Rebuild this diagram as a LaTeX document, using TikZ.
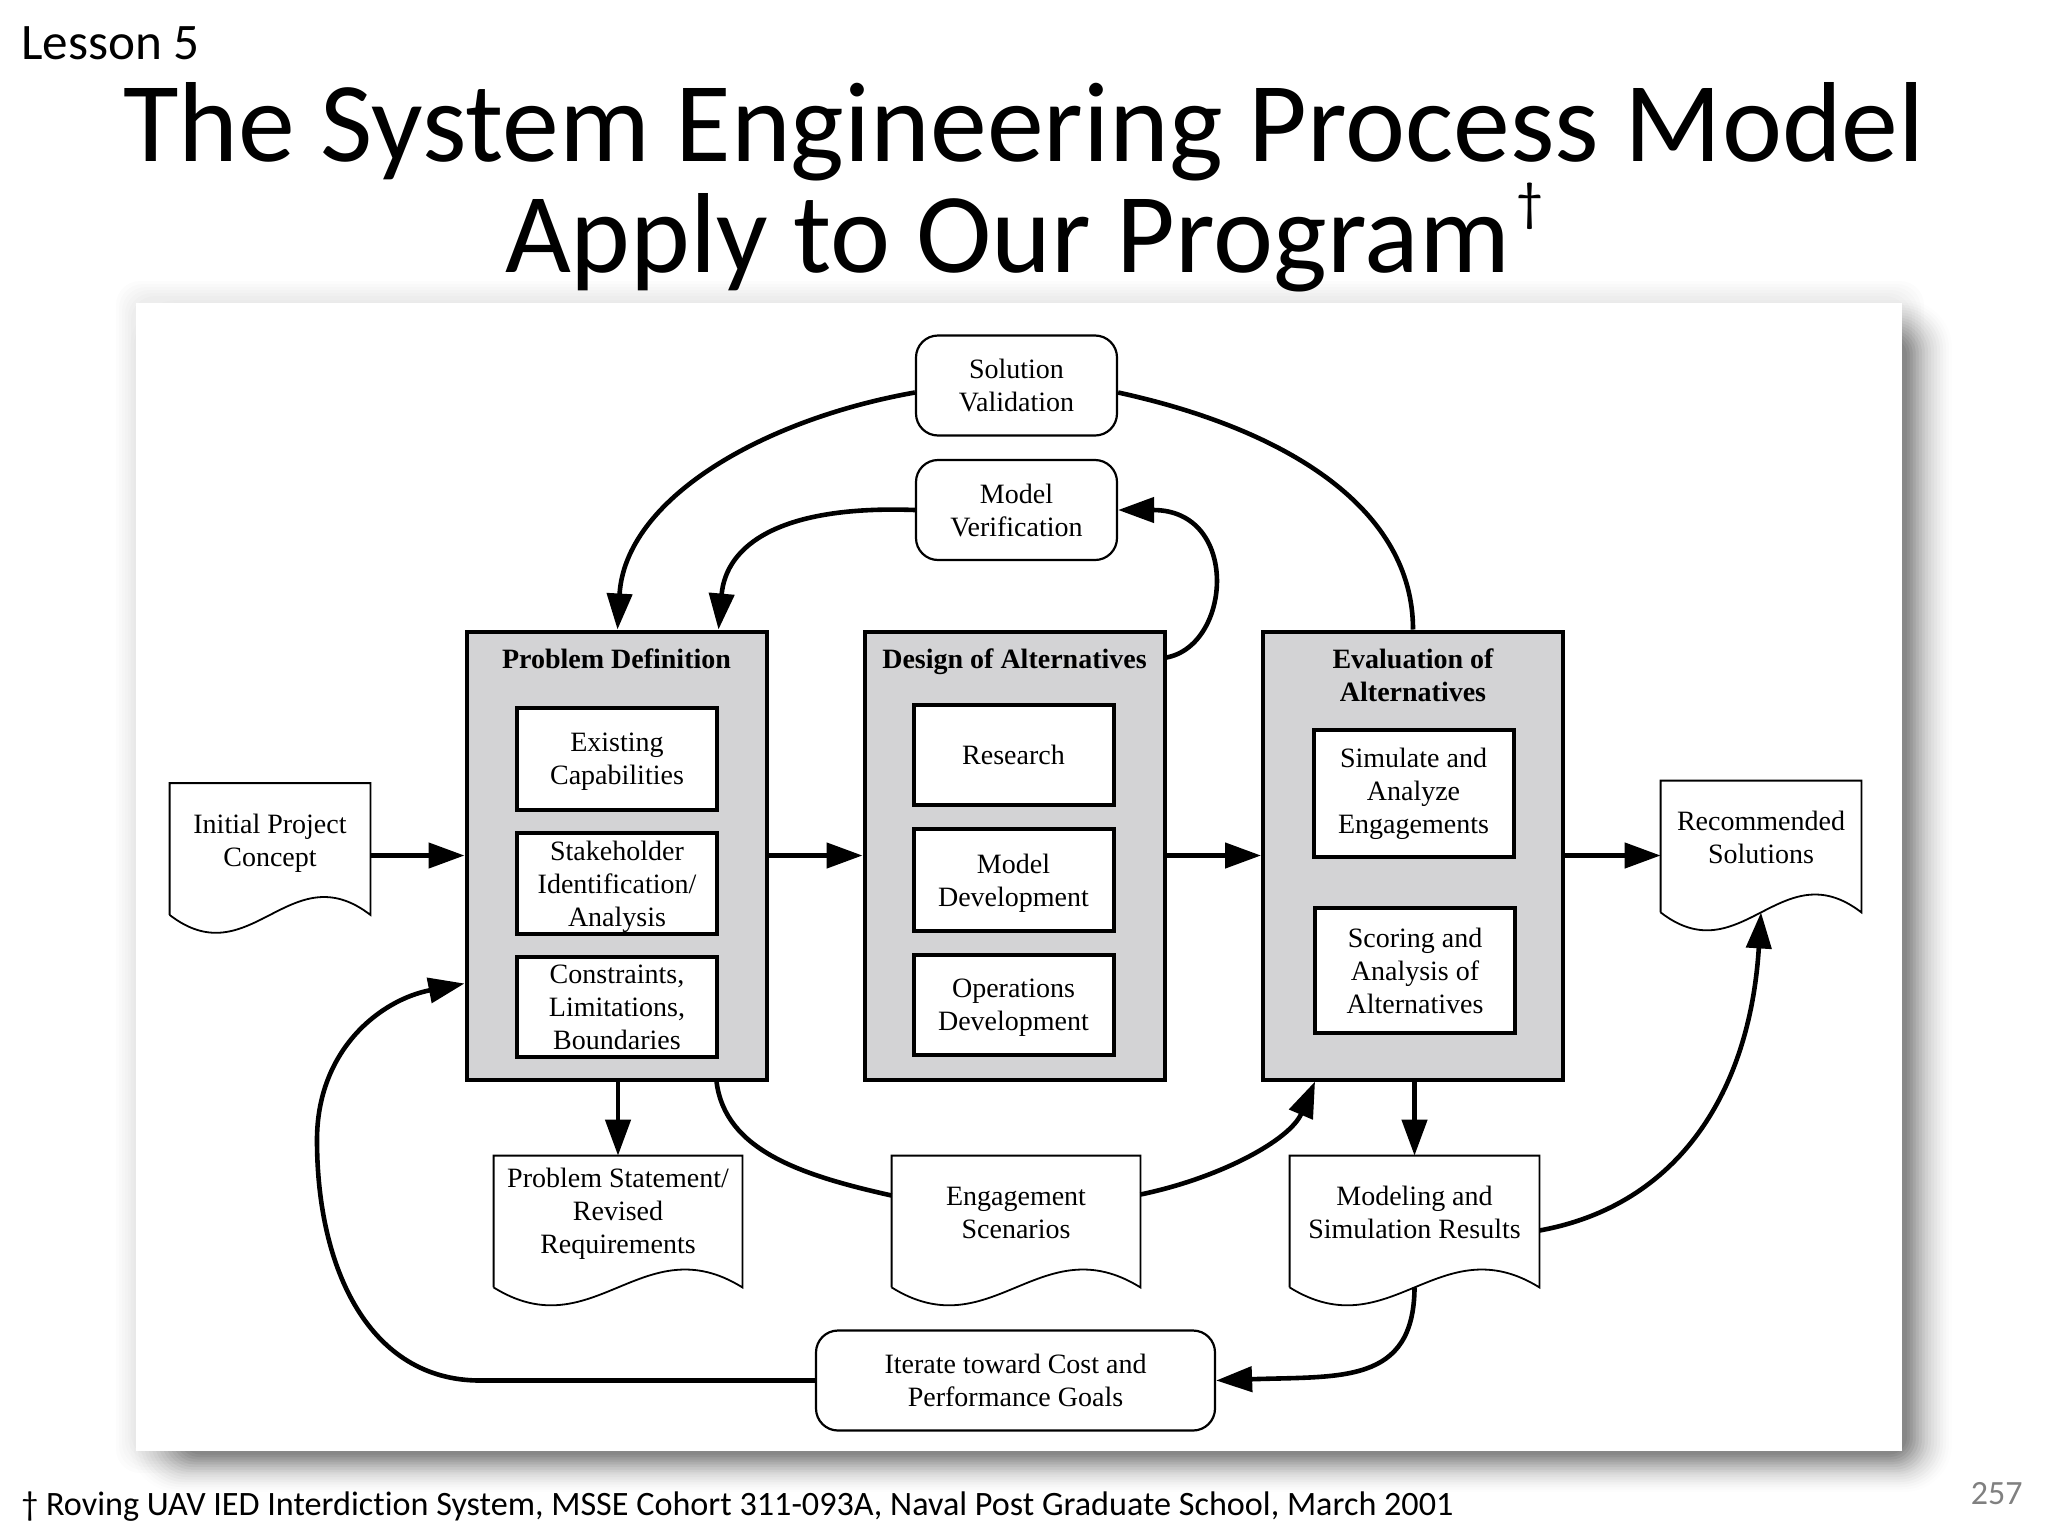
\documentclass[tikz,border=0pt]{standalone}
\usepackage{fontspec}
\setmainfont[Ligatures=NoCommon]{Carlito}
\newfontfamily\paperfont{Liberation Serif}
\usepackage{tikz}
\usetikzlibrary{positioning, arrows.meta, calc}
\definecolor{panelgray}{HTML}{D3D3D5}
\tikzset{
    papertext/.style={font=\paperfont\fontsize{14}{16.6}\selectfont, align=center, inner sep=0pt, text depth=0pt},
    panel/.style={draw, line width=2pt, fill=panelgray, minimum width=150pt, minimum height=224pt},
    inbox/.style={papertext, draw, line width=2pt, fill=white, minimum width=100pt},
    roundbox/.style={papertext, draw, line width=1.1pt, fill=white, rounded corners=11pt, minimum height=50pt},
    docnode/.style={papertext, minimum height=56.5pt},
    docline/.style={line width=0.9pt},
    headtext/.style={font=\paperfont\bfseries\fontsize{14}{16.6}\selectfont, align=center, inner sep=0pt, text depth=0pt},
    flow/.style={-{Triangle[length=18pt,width=12.5pt]}, line width=2.3pt},
    plainflow/.style={line width=2.3pt}
}

\begin{document}
\begin{tikzpicture}[x=0.5pt, y=-0.5pt]
    \useasboundingbox (0,0) rectangle (2048,1536);

    % panel and its soft shadow
    \foreach \i in {0,...,5} {
        \fill [black, opacity=0.012, rounded corners=12pt] (116+3*\i,281+3*\i) rectangle (1924-3*\i,1473-3*\i);
    }
    \foreach \i [evaluate=\i as \rad using 24-\i, evaluate=\i as \alphaval using 0.008+0.0035*\i] in {0,...,15} {
        \fill [black, opacity=\alphaval, rounded corners=\rad pt] (130+3.5*\i,300+2.5*\i) rectangle (1952-3*\i,1492-2.5*\i);
    }
    \fill [white] (136,303) rectangle (1902,1451);

    % slide text
    \node (Lesson) [anchor=west, inner sep=0pt, font=\fontsize{25.6}{30}\selectfont] at (21,43) {Lesson 5};
    \node (Title) [align=center, inner sep=0pt, font=\fontsize{56.9}{53}\selectfont] at (1024,187) {The System Engineering Process Model\\Apply to Our Program\hspace{3pt}\raisebox{26pt}{\fontsize{27}{27}\selectfont †}};
    \node (Foot) [anchor=west, inner sep=0pt, font=\fontsize{17.08}{20}\selectfont] at (21,1507) {† Roving UAV IED Interdiction System, MSSE Cohort 311-093A, Naval Post Graduate School, March 2001};
    \node (PageNum) [anchor=east, inner sep=0pt, text=black!50, font=\fontsize{17}{20}\selectfont] at (2023,1494) {257};

    % stages
    \node (Prob) [panel] at (616.5,855.5) {};
    \node (Design) [panel] at (1014.5,855.5) {};
    \node (Eval) [panel] at (1413,855.5) {};
    \node (ProbHead) [headtext] at ($(Prob.north)+(0,29)$) {Problem Definition};
    \node (DesignHead) [headtext] at ($(Design.north)+(0,29)$) {Design of Alternatives};
    \node (EvalHead) [headtext] at ($(Eval.north)+(0,46)$) {Evaluation of\\Alternatives};

    \node (Existing) [inbox, minimum height=51pt] at (617,759) {Existing\\Capabilities};
    \node (Stake) [inbox, minimum height=50.5pt] at (617,883.5) {Stakeholder\\Identification/\\Analysis};
    \node (Limits) [inbox, minimum height=50pt] at (617,1007) {Constraints,\\Limitations,\\Boundaries};
    \node (Research) [inbox, minimum height=50pt] at (1013.5,755) {Research};
    \node (ModelDev) [inbox, minimum height=51pt] at (1013.5,880) {Model\\Development};
    \node (OpsDev) [inbox, minimum height=50pt] at (1013.5,1005) {Operations\\Development};
    \node (Simulate) [inbox, minimum height=63.5pt, text depth=3pt] at (1413.5,793.5) {Simulate and\\Analyze\\Engagements};
    \node (Scoring) [inbox, minimum height=62.5pt] at (1415,970.5) {Scoring and\\Analysis of\\Alternatives};

    % loop boxes
    \node (Valid) [roundbox, minimum width=100.5pt] at (1016.5,385.5) {Solution\\Validation};
    \node (Verif) [roundbox, minimum width=100.5pt] at (1016.5,510) {Model\\Verification};
    \node (Iterate) [roundbox, minimum width=199.5pt] at (1015.5,1380.5) {Iterate toward Cost and\\Performance Goals};

    % documents
    \node (Init) [docnode, minimum width=100pt] at (270,840) {Initial Project\\Concept};
    \node (Rec) [docnode, minimum width=100pt] at (1761,837.5) {Recommended\\Solutions};
    \node (ProbDoc) [docnode, minimum width=124pt, text depth=1.5pt] at (618,1212.5) {Problem Statement/\\Revised\\Requirements};
    \node (Scenario) [docnode, minimum width=124pt] at (1016,1212.5) {Engagement\\Scenarios};
    \node (Results) [docnode, minimum width=124.5pt] at (1414.5,1212.5) {Modeling and\\Simulation Results};
    \foreach \doc in {Init,Rec,ProbDoc,Scenario,Results} {
        \draw [docline] ($(\doc.south west)+(0,18)$) -- (\doc.north west) -- (\doc.north east) -- ($(\doc.south east)+(0,18)$)
            .. controls ($(\doc.south west)!0.6!(\doc.south east)+(0,-44)$) and ($(\doc.south west)!0.4!(\doc.south east)+(0,80)$) .. ($(\doc.south west)+(0,18)$);
    }

    % straight connectors
    \draw [flow] (Init.east |- Prob.west) -- (Prob.west);
    \draw [flow] (Prob.east) -- (Design.west);
    \draw [flow] (Design.east) -- (Eval.west);
    \draw [flow] (Eval.east) -- (Eval.east -| Rec.west);
    \draw [flow] (ProbDoc.north |- Prob.south) -- (ProbDoc.north);
    \draw [flow] (Results.north |- Eval.south) -- (Results.north);

    % curved connectors
    \draw [flow] ($(Valid.west)+(0,7)$) .. controls (760,420) and (625,500) .. ($(Prob.north)+(1,0)$);
    \draw [flow] (Verif.west) .. controls (780,505) and (726,545) .. ($(Prob.north)+(102,0)$);
    \draw [flow] ($(Design.north east)+(0,28)$) .. controls (1232,645) and (1240,510) .. (Verif.east);
    \draw [plainflow] ($(Valid.east)+(0,7)$) .. controls (1290,430) and (1413,510) .. (Eval.north);
    \draw [plainflow] ($(Prob.south)+(100,0)$) .. controls (725,1150) and (800,1175) .. ($(Scenario.west)+(0,-17)$);
    \draw [flow] ($(Scenario.east)+(0,-18)$) .. controls (1220,1178) and (1290,1140) .. ($(Eval.south)+(-98,0)$);
    \draw [flow] ($(Results.east)+(0,18)$) .. controls (1680,1205) and (1750,1090) .. ($(Rec.south)+(0,18)$);
    \draw [flow] ($(Results.south)+(0,18)$) .. controls (1414,1385) and (1340,1376) .. (Iterate.east);
    \draw [flow] (Iterate.west) -- (480,1380.5) .. controls (370,1380.5) and (317,1270) .. (317,1140)
        .. controls (317,1050) and (380,1000) .. ($(Prob.west)+(0,128)$);
\end{tikzpicture}
\end{document}
